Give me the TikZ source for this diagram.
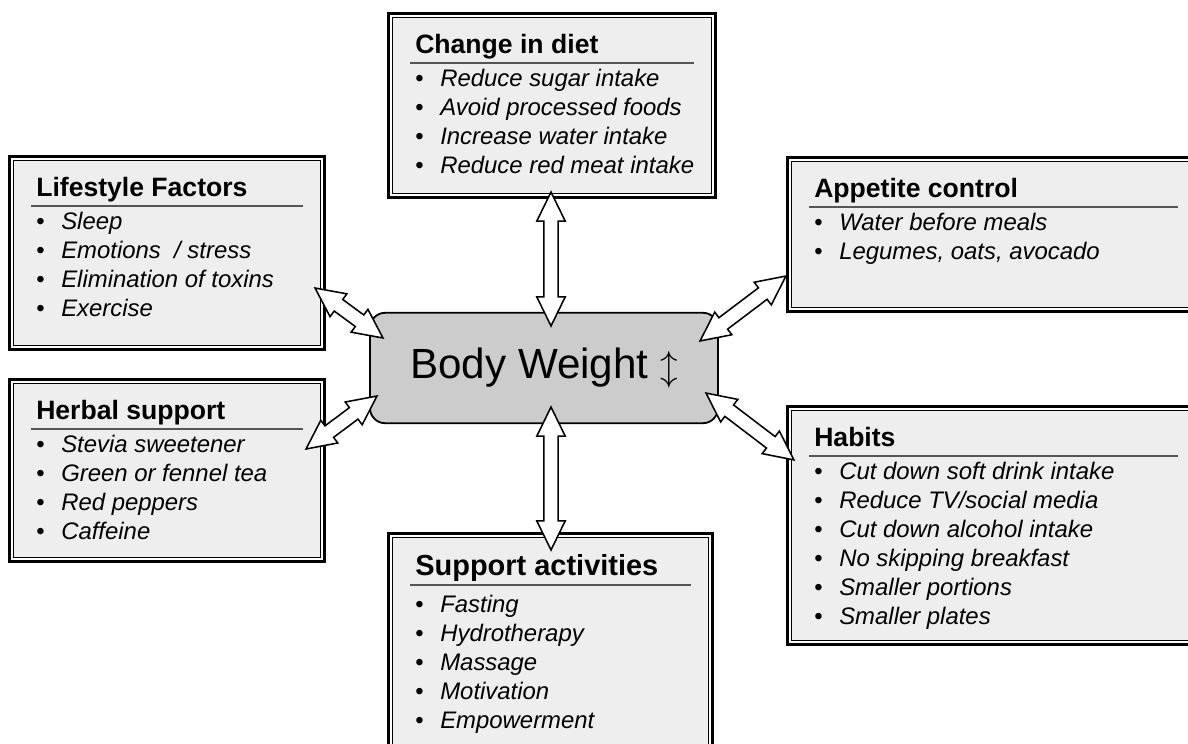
\documentclass[tikz,border=0pt]{standalone}
\usepackage{fontspec}
\setmainfont{Liberation Sans}
\usetikzlibrary{shapes.arrows,fit,calc}

\definecolor{panelgray}{HTML}{EEEEEE}
\definecolor{bodygray}{HTML}{CCCCCC}
\definecolor{rulegray}{HTML}{555555}

% one framed panel: [extra drop], name, top-left, bottom-right (line centres), title
\newcommand{\panelbox}[5][0]{%
  \node[panel, fit={#3 #4}] (#2) {};
  \draw[panelinner] ([shift={(4,4)}]#2.north west) rectangle ([shift={(-4,-4)}]#2.south east);
  \node[paneltitle] (#2-title) at ([shift={(26.5,39.5+#1)}]#2.north west) {#5};
  \draw[panelrule] ([shift={(21.5,49.5+#1)}]#2.north west) -- ([shift={(-21.5,49.5+#1)}]#2.north east);
}
% bullet list under the title
\newcommand{\panelitems}[3][0]{%
  \foreach \txt [count=\i] in {#3}
    \node[panelitem] (#2-\i) at ([shift={(26.5,43.5+29*\i+#1)}]#2.north west)
      {\makebox[0.625cm][l]{\upshape\textbullet}\txt};
}
% hollow double-headed arrow between two points
\newcommand{\blocklink}[2]{%
  \path let \p1=($(#2)-(#1)$), \n1={veclen(\x1,\y1)}, \n2={atan2(\y1,\x1)} in
    node[blockarrow, minimum height=\n1, rotate=\n2] (#1-#2) at ($(#1)!0.5!(#2)$) {};
}

\begin{document}
\begin{tikzpicture}[x=0.025cm, y=-0.025cm,
  panel/.style={draw, line width=2.1pt, fill=white, inner sep=0pt, outer sep=0pt},
  panelinner/.style={draw, line width=1.1pt, fill=panelgray},
  paneltitle/.style={anchor=base west, inner sep=0pt, font=\fontsize{18.9}{22}\selectfont\bfseries},
  panelrule/.style={draw=rulegray, line width=0.8pt},
  panelitem/.style={anchor=base west, inner sep=0pt, font=\fontsize{17}{20}\selectfont\itshape},
  bodybox/.style={draw, line width=1.3pt, fill=bodygray, rounded corners=0.38cm,
    minimum width=8.7cm, minimum height=2.76cm, inner sep=0pt,
    font=\fontsize{30}{33}\selectfont},
  blockarrow/.style={double arrow, draw, fill=white, line width=1.1pt, inner sep=0pt,
    inner ysep=0.16cm, double arrow head extend=0.175cm, double arrow tip angle=52,
    minimum width=0pt}]
\useasboundingbox (0,0) rectangle (1188,743);
\clip (0,0) rectangle (1188,743);

% --- panels ---
\panelbox{diet}{(388.5,13.5)}{(715.5,197.5)}{Change in diet}
\panelitems{diet}{Reduce sugar intake, Avoid processed foods, Increase water intake, Reduce red meat intake}

\panelbox{life}{(9.5,156.5)}{(324.5,349.5)}{Lifestyle Factors}
\panelitems{life}{Sleep, Emotions\ \ / stress, Elimination of toxins, Exercise}

\panelbox{appetite}{(787.5,157.5)}{(1199.5,311.5)}{Appetite control}
\panelitems{appetite}{Water before meals, {Legumes, oats, avocado}}

\panelbox{herbal}{(9.5,379.5)}{(324.5,561.5)}{Herbal support}
\panelitems{herbal}{Stevia sweetener, Green or fennel tea, Red peppers, Caffeine}

\panelbox{habits}{(787.5,406.5)}{(1199.5,644.5)}{Habits}
\panelitems{habits}{Cut down soft drink intake, Reduce TV/social media, Cut down alcohol intake, No skipping breakfast, Smaller portions, Smaller plates}

\panelbox[2]{support}{(388.5,533.5)}{(712.5,760)}{\fontsize{20.6}{24}\selectfont Support activities}
\panelitems[6]{support}{Fasting, Hydrotherapy, Massage, Motivation, Empowerment}

% --- centre ---
\node[bodybox] (body) at (544,368) {Body Weight $\updownarrow$};

% --- arrow ends ---
\coordinate (dietEnd) at (551,192);
\coordinate (bodyTop) at (551,326);
\coordinate (supportEnd) at (551,550);
\coordinate (bodyBottom) at (551,407);
\coordinate (lifeEnd) at (315,288);
\coordinate (bodyNW) at (383,338);
\coordinate (appetiteEnd) at (786,276);
\coordinate (bodyNE) at (700,341);
\coordinate (herbalEnd) at (306,449);
\coordinate (bodySW) at (377,396);
\coordinate (habitsEnd) at (794,460);
\coordinate (bodySE) at (706,393);

\blocklink{dietEnd}{bodyTop}
\blocklink{bodyBottom}{supportEnd}
\blocklink{lifeEnd}{bodyNW}
\blocklink{appetiteEnd}{bodyNE}
\blocklink{herbalEnd}{bodySW}
\blocklink{habitsEnd}{bodySE}
\end{tikzpicture}
\end{document}
